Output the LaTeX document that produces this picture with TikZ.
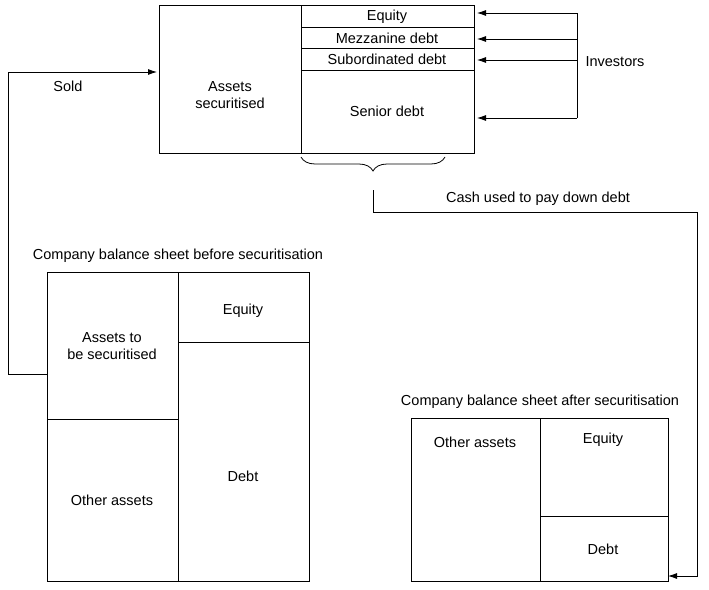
\documentclass[tikz,border=0pt]{standalone}
\usepackage{fontspec}
\setmainfont{Liberation Sans}
\usetikzlibrary{positioning, arrows.meta, calc, decorations.pathreplacing}
\tikzset{
	>={Latex[length=9pt, width=6pt]},
	lbl/.style={font=\fontsize{14.5}{17}\selectfont, inner sep=1pt, align=center},
	flow/.style={->},
}
\begin{document}
\begin{tikzpicture}[x=1pt, y=-1pt, line width=0.8pt]
			\useasboundingbox (0,0) rectangle (709,589);
			
			% special purpose vehicle
			\draw (159,5) rectangle (474,153);
			\draw (301,5) -- (301,153);
			\draw (301,27) -- (474,27);
			\draw (301,48) -- (474,48);
			\draw (301,70) -- (474,70);
			\node[lbl] (SPVASSETS) at (230,95) {Assets\\securitised};
			\node[lbl] (SPVEQ) at (387,17) {Equity};
			\node[lbl] (SPVMEZ) at (387,38) {Mezzanine debt};
			\node[lbl] (SPVSUB) at (387,59) {Subordinated debt};
			\node[lbl] (SPVSEN) at (387,111) {Senior debt};
			
			% investors
			\node[lbl] (INV) at (615,62) {Investors};
			\coordinate (i1) at (577,13);
			\coordinate (i2) at (577,39);
			\coordinate (i3) at (577,60);
			\coordinate (i4) at (577,118);
			\draw (i1) -- (i4);
			\draw[flow] (i1) -- (477,13);
			\draw[flow] (i2) -- (477,39);
			\draw[flow] (i3) -- (477,60);
			\draw[flow] (i4) -- (477,118);
			
			% brace and cash
			\draw[decorate, decoration={brace, mirror, amplitude=14pt}] (301,157) -- (445,157);
			\coordinate (tip) at (373,190);
			\coordinate (DEBT2in) at (668,576);
			\node[lbl] (CASH) at (538,199) {Cash used to pay down debt};
			\draw[flow] (tip) -- (373,212) -- (697,212) -- (697,576) -- (DEBT2in);
			
			% before
			\node[lbl] (BEFORE) at (178,256) {Company balance sheet before securitisation};
			\draw (47,272) rectangle (309,581);
			\draw (178,272) -- (178,581);
			\draw (47,419) -- (178,419);
			\draw (178,342) -- (309,342);
			\node[lbl] (ATBS) at (112,346) {Assets to\\be securitised};
			\node[lbl] (EQ1) at (243,311) {Equity};
			\node[lbl] (OA1) at (112,500) {Other assets};
			\node[lbl] (DEBT1) at (243,476) {Debt};
			\node[lbl] (SOLD) at (68,86) {Sold};
			\coordinate (s0) at (47,374);
			\draw[flow] (s0) -- (8,374) -- (8,72) -- (157,72);
			
			% after
			\node[lbl] (AFTER) at (540,402) {Company balance sheet after securitisation};
			\draw (411,418) rectangle (668,581);
			\draw (540,418) -- (540,581);
			\draw (540,516) -- (668,516);
			\node[lbl] (OA2) at (475,442) {Other assets};
			\node[lbl] (EQ2) at (603,440) {Equity};
			\node[lbl] (DEBT2) at (603,549) {Debt};
			
\end{tikzpicture}
\end{document}
